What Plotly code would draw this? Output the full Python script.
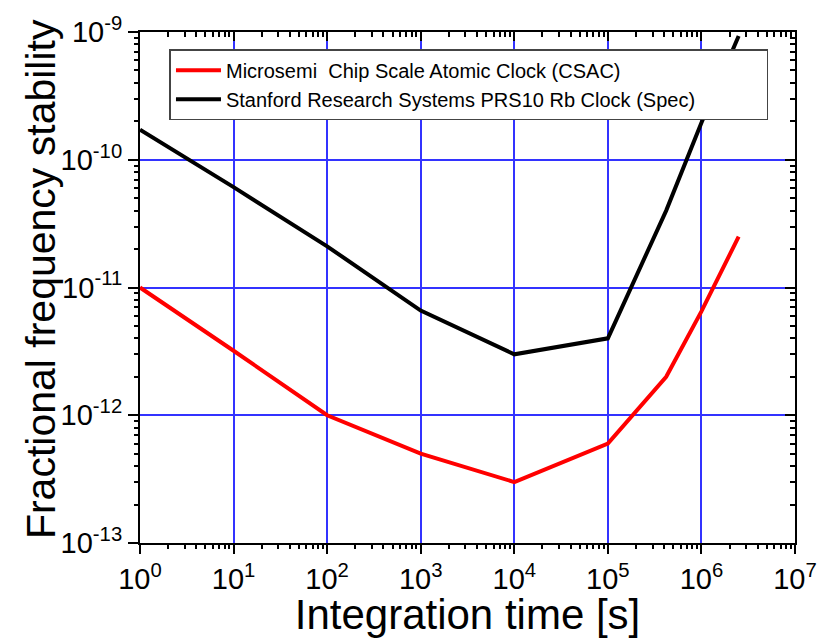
import plotly.graph_objects as go

# Data
csac_tau = [1, 10, 100, 1000, 1e4, 1e5, 4.2e5, 1e6, 2.5e6]
csac_adev = [1.0e-11, 3.2e-12, 1.0e-12, 5.0e-13, 3.0e-13, 6.0e-13, 2.0e-12, 6.5e-12, 2.5e-11]
csac_name = "Microsemi  Chip Scale Atomic Clock (CSAC)"

prs_tau = [1, 10, 100, 1000, 1e4, 1e5, 4.2e5, 1e6, 2.5e6]
prs_adev = [1.72e-10, 6.1e-11, 2.1e-11, 6.6e-12, 3.0e-12, 4.0e-12, 4.0e-11, 1.95e-10, 9.3e-10]
prs_name = "Stanford Research Systems PRS10 Rb Clock (Spec)"

x_title = "Integration time [s]"
y_title = "Fractional frequency stability"

x_decades = list(range(0, 8))
y_decades = list(range(-13, -8))
x_ticktext = ["10<sup>%d</sup>" % d for d in x_decades]
y_ticktext = ["10<sup>%d</sup>" % d for d in y_decades]
x_tickvals = [10.0 ** d for d in x_decades]
y_tickvals = [10.0 ** d for d in y_decades]
x_minor = [k * 10.0 ** d for d in x_decades[:-1] for k in range(2, 10)]
y_minor = [k * 10.0 ** d for d in y_decades[:-1] for k in range(2, 10)]

FONT = "Liberation Sans, Arial, sans-serif"
PAD = "\u00a0" * 12 + "\u200b"
GRID = "#3333ff"

fig = go.Figure()
fig.add_trace(go.Scatter(x=csac_tau, y=csac_adev, mode="lines", name=csac_name,
                         line=dict(color="#ff0000", width=4)))
fig.add_trace(go.Scatter(x=prs_tau, y=prs_adev, mode="lines", name=prs_name + PAD,
                         line=dict(color="#000000", width=4)))
# invisible helper traces so that the extra tick-only axes get drawn
for k in (2, 3, 4):
    fig.add_trace(go.Scatter(x=csac_tau[:1], y=csac_adev[:1], xaxis="x%d" % k, yaxis="y%d" % k,
                             mode="markers", marker=dict(opacity=0), showlegend=False,
                             hoverinfo="skip"))

xr = dict(type="log", range=[0, 7], tickmode="array", zeroline=False, showgrid=False)
yr = dict(type="log", range=[-13, -9], tickmode="array", zeroline=False, showgrid=False)
tk = dict(tickwidth=2, tickcolor="black")

fig.update_layout(
    width=829, height=638,
    margin=dict(l=140, r=32, t=22, b=90),
    paper_bgcolor="white", plot_bgcolor="white",
    font=dict(family=FONT, color="black"),
    showlegend=True,
    legend=dict(x=0.045, y=0.966, xanchor="left", yanchor="top",
                bgcolor="white", bordercolor="#444444", borderwidth=1.5,
                font=dict(size=20, family=FONT), tracegroupgap=0, itemwidth=45),
    annotations=[dict(text=y_title, xref="paper", yref="paper", x=-0.1507, y=0.517,
                      xanchor="center", yanchor="middle", textangle=-90, showarrow=False,
                      font=dict(size=41, family=FONT, color="black"))],
    # main axes: decades, labels, blue grid, outside ticks
    xaxis=dict(type="log", range=[0, 7], tickmode="array", tickvals=x_tickvals,
               ticktext=x_ticktext, zeroline=False,
               showgrid=True, gridcolor=GRID, gridwidth=1.6,
               showline=True, linecolor="black", linewidth=2,
               ticks="outside", ticklen=9, **tk,
               tickfont=dict(size=29, family=FONT),
               title=dict(text=x_title, font=dict(size=42, family=FONT), standoff=2)),
    yaxis=dict(type="log", range=[-13, -9], tickmode="array", tickvals=y_tickvals,
               ticktext=y_ticktext, zeroline=False,
               showgrid=True, gridcolor=GRID, gridwidth=1.6,
               showline=True, linecolor="black", linewidth=2,
               ticks="outside", ticklen=10, **tk,
               tickfont=dict(size=29, family=FONT)),
    # minor ticks bottom / left (outside)
    xaxis2=dict(**xr, tickvals=x_minor, overlaying="x", side="bottom", showticklabels=False,
                showline=False, ticks="outside", ticklen=5, **tk),
    yaxis2=dict(**yr, tickvals=y_minor, overlaying="y", side="left", showticklabels=False,
                showline=False, ticks="outside", ticklen=5, **tk),
    # major ticks top / right (inside) with frame line
    xaxis3=dict(**xr, tickvals=x_tickvals, overlaying="x", side="top", showticklabels=False,
                showline=True, linecolor="black", linewidth=2, ticks="inside", ticklen=9, **tk),
    yaxis3=dict(**yr, tickvals=y_tickvals, overlaying="y", side="right", showticklabels=False,
                showline=True, linecolor="black", linewidth=2, ticks="inside", ticklen=10, **tk),
    # minor ticks top / right (inside)
    xaxis4=dict(**xr, tickvals=x_minor, overlaying="x", side="top", showticklabels=False,
                showline=False, ticks="inside", ticklen=5, **tk),
    yaxis4=dict(**yr, tickvals=y_minor, overlaying="y", side="right", showticklabels=False,
                showline=False, ticks="inside", ticklen=5, **tk),
)

fig.write_html("out.html")
